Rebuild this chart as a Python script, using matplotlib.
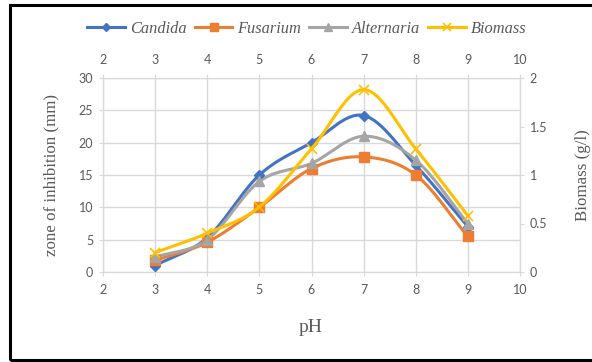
import numpy as np
import matplotlib.pyplot as plt
from matplotlib.lines import Line2D
from matplotlib.patches import Rectangle

# --- Données ---
ph = [3, 4, 5, 6, 7, 8, 9]
candida = [1.0, 5.3, 15.0, 20.0, 24.2, 16.5, 7.0]
fusarium = [1.8, 4.6, 10.0, 16.0, 17.8, 15.0, 5.5]
alternaria = [2.3, 5.0, 14.0, 16.8, 21.0, 17.3, 7.5]
biomass = [0.2, 0.4, 0.67, 1.27, 1.88, 1.27, 0.58]

x_ticks = [2, 3, 4, 5, 6, 7, 8, 9, 10]
y_ticks = [0, 5, 10, 15, 20, 25, 30]
y2_ticks = [0, 0.5, 1, 1.5, 2]
y2_labels = ['0', '0.5', '1', '1.5', '2']

grid_col = '#d9d9d9'
txt_col = '#595959'


# lissage type Excel (Catmull-Rom) pour le tracé uniquement
def smooth(x, y, n=30):
    x = np.asarray(x, float)
    y = np.asarray(y, float)
    px = np.concatenate([[2 * x[0] - x[1]], x, [2 * x[-1] - x[-2]]])
    py = np.concatenate([[2 * y[0] - y[1]], y, [2 * y[-1] - y[-2]]])
    xs, ys = [], []
    t = np.linspace(0, 1, n)
    for i in range(1, len(px) - 2):
        for p, out in ((px, xs), (py, ys)):
            p0, p1, p2, p3 = p[i - 1], p[i], p[i + 1], p[i + 2]
            out.append(0.5 * ((2 * p1) + (-p0 + p2) * t
                              + (2 * p0 - 5 * p1 + 4 * p2 - p3) * t ** 2
                              + (-p0 + 3 * p1 - 3 * p2 + p3) * t ** 3))
    return np.concatenate(xs), np.concatenate(ys)


fig = plt.figure(figsize=(5.92, 3.62), dpi=100)
fig.patches.append(Rectangle((10 / 592, 2 / 362), 1.2, 1 - 7 / 362,
                             transform=fig.transFigure, fill=False,
                             edgecolor='black', lw=2.2))

ax = fig.add_axes([103 / 592, 1 - 272 / 362, 417 / 592, 194 / 362])
ax2 = ax.twinx()

series = [
    ('Candida', candida, '#4472C4', 'D', 5),
    ('Fusarium', fusarium, '#ED7D31', 's', 6.5),
    ('Alternaria', alternaria, '#A5A5A5', '^', 6.5),
]
handles = []
for name, vals, col, mk, ms in series:
    sx, sy = smooth(ph, vals)
    ax.plot(sx, sy, color=col, lw=2.2, zorder=3)
    ax.plot(ph, vals, ls='none', marker=mk, ms=ms, color=col, zorder=4)
    handles.append(Line2D([], [], color=col, lw=2.2, marker=mk, ms=ms - 1))

sx, sy = smooth(ph, biomass)
ax2.plot(sx, sy, color='#FFC000', lw=2.2, zorder=3)
ax2.plot(ph, biomass, ls='none', marker='x', ms=7, mew=1.2, color='#FFC000', zorder=4)
handles.append(Line2D([], [], color='#FFC000', lw=2.2, marker='x', ms=6, mew=1.2))

ax.set_xlim(2, 10)
ax.set_ylim(0, 30)
ax2.set_ylim(0, 2)
ax.set_xticks(x_ticks)
ax.set_yticks(y_ticks)
ax2.set_yticks(y2_ticks)
ax2.set_yticklabels(y2_labels)
ax.grid(True, color=grid_col, lw=1)
ax.set_axisbelow(True)

for a in (ax, ax2):
    for s in a.spines.values():
        s.set_color(grid_col)
    a.tick_params(colors=grid_col, labelcolor=txt_col, labelsize=9, length=3,
                  labelfontfamily='Lato')
ax.tick_params(axis='x', top=True, labeltop=True, pad=6)
ax.tick_params(axis='y', pad=4)
ax2.tick_params(axis='y', pad=4)

serif = 'Liberation Serif'
ax.set_ylabel('zone of inhibition (mm)', fontsize=12.2, family=serif, color=txt_col, labelpad=14)
ax2.set_ylabel('Biomass (g/l)', fontsize=12.2, family=serif, color=txt_col, labelpad=20)
fig.text(311 / 592, 1 - 327 / 362, 'pH', fontsize=14, family=serif, color=txt_col,
         ha='center', va='center')

fig.legend(handles, ['Candida', 'Fusarium', 'Alternaria', 'Biomass'],
           loc='center', bbox_to_anchor=(307 / 592, 1 - 29 / 362), ncol=4, frameon=False,
           prop={'family': serif, 'style': 'italic', 'size': 11.8},
           labelcolor=txt_col, handlelength=2.3, handletextpad=0.3, columnspacing=0.5)

fig.savefig('out.png', dpi=100)
